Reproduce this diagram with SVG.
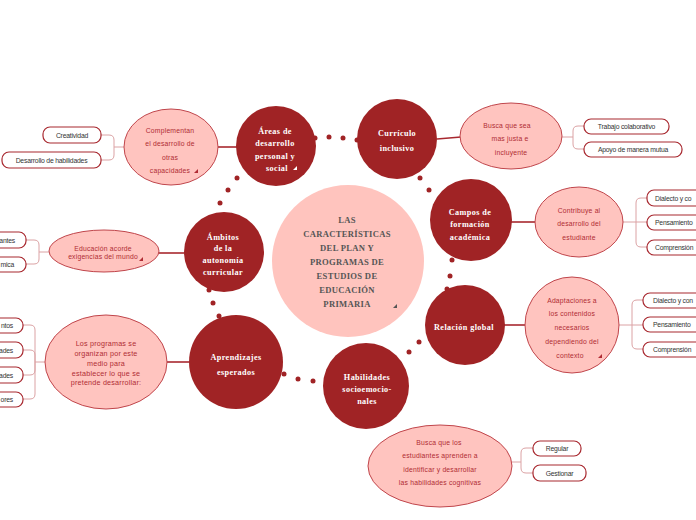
<svg xmlns="http://www.w3.org/2000/svg" width="696" height="520" viewBox="0 0 696 520">
<style>
.main{fill:#a02325}
.sub{fill:#ffc4bf;stroke:#c0454b;stroke-width:1}
.leaf{fill:#fff;stroke:#a8282f;stroke-width:1.2}
.link{fill:none;stroke:#a8282f;stroke-width:1.6}
.br{fill:none;stroke:#dba2a4;stroke-width:1}
.dot{fill:#a02325}
.mt{font-family:"Liberation Serif",serif;font-weight:bold;font-size:8.2px;fill:#fff;text-anchor:middle;letter-spacing:0.4px}
.ct{font-family:"Liberation Serif",serif;font-weight:bold;font-size:8.6px;fill:#555;text-anchor:middle;letter-spacing:0.3px}
.st{font-family:"Liberation Sans",Arial,sans-serif;font-size:6.8px;fill:#b02c34;text-anchor:middle;letter-spacing:0.2px}
.lt{font-family:"Liberation Sans",Arial,sans-serif;font-size:6.8px;fill:#333;letter-spacing:-0.2px}
.tw{fill:#fff}.tr{fill:#b02c34}.tg{fill:#555}
</style>
<g id="connectors">
  <path class="link" d="M218 147 H237"/>
  <path class="link" d="M437 139 L461 137"/>
  <path class="link" d="M511 222 H536"/>
  <path class="link" d="M504 325 H526"/>
  <path class="link" d="M167 362 H189"/>
  <path class="link" d="M158 253 H184"/>
  <path class="br" d="M124 147 H114 M114 147 V140 Q114 135 109 135 H101 M114 147 V155 Q114 160 109 160 H101"/>
  <path class="br" d="M562 137 H573 M573 137 V131 Q573 126 578 126 H584 M573 137 V144 Q573 149 578 149 H584"/>
  <path class="br" d="M623 222 H636 M636 222 V203 Q636 198 641 198 H647 M636 222 H647 M636 222 V242 Q636 247 641 247 H647"/>
  <path class="br" d="M619 325 H632 M632 325 V305 Q632 300 637 300 H643 M632 325 H643 M632 325 V344 Q632 349 637 349 H643"/>
  <path class="br" d="M511 462 H521 M521 462 V453 Q521 448 526 448 H533 M521 462 V468 Q521 473 526 473 H533"/>
  <path class="br" d="M49 252 H39 M39 252 V245 Q39 240 34 240 H26 M39 252 V259 Q39 264 34 264 H26"/>
  <path class="br" d="M45 362 H35 M35 362 V330 Q35 325 30 325 H23 M35 362 V355 Q35 350 30 350 H23 M35 362 V370 Q35 375 30 375 H23 M35 362 V394 Q35 399 30 399 H23"/>
  <circle class="dot" cx="315" cy="138" r="2.5"/><circle class="dot" cx="329" cy="137" r="2.5"/><circle class="dot" cx="343" cy="138" r="2.5"/><circle class="dot" cx="357" cy="140" r="2.5"/>
  <circle class="dot" cx="420" cy="178" r="2.5"/><circle class="dot" cx="429" cy="190" r="2.5"/>
  <circle class="dot" cx="452" cy="260" r="2.5"/><circle class="dot" cx="450" cy="276" r="2.5"/><circle class="dot" cx="447" cy="289" r="2.5"/>
  <circle class="dot" cx="419" cy="342" r="2.5"/><circle class="dot" cx="409" cy="352" r="2.5"/>
  <circle class="dot" cx="284" cy="374" r="2.5"/><circle class="dot" cx="298" cy="379" r="2.5"/><circle class="dot" cx="313" cy="381" r="2.5"/>
  <circle class="dot" cx="209" cy="290" r="2.5"/><circle class="dot" cx="213" cy="303" r="2.5"/><circle class="dot" cx="219" cy="316" r="2.5"/>
  <circle class="dot" cx="237" cy="178" r="2.5"/><circle class="dot" cx="228" cy="190" r="2.5"/><circle class="dot" cx="220" cy="203" r="2.5"/>
</g>
<g id="central">
  <circle cx="348" cy="261" r="76" fill="#ffc4be"/>
  <text class="ct"><tspan x="347" y="223">LAS</tspan><tspan x="347" y="237">CARACTERÍSTICAS</tspan><tspan x="347" y="251">DEL PLAN Y</tspan><tspan x="347" y="265">PROGRAMAS DE</tspan><tspan x="347" y="279">ESTUDIOS DE</tspan><tspan x="347" y="293">EDUCACIÓN</tspan><tspan x="347" y="307">PRIMARIA</tspan></text>
  <polygon class="tg" points="397,304 397,308 393,308"/>
</g>
<g id="areas">
  <circle class="main" cx="276" cy="146" r="40"/>
  <text class="mt"><tspan x="275" y="134">Áreas de</tspan><tspan x="275" y="146">desarrollo</tspan><tspan x="275" y="159">personal y</tspan><tspan x="277" y="171">social</tspan></text>
  <polygon class="tw" points="297,166 297,170 293,170"/>
</g>
<g id="curriculo">
  <circle class="main" cx="397" cy="139" r="40"/>
  <text class="mt"><tspan x="397" y="136">Currículo</tspan><tspan x="397" y="151">inclusivo</tspan></text>
</g>
<g id="campos">
  <circle class="main" cx="471" cy="220" r="41"/>
  <text class="mt"><tspan x="470" y="215">Campos de</tspan><tspan x="470" y="227">formación</tspan><tspan x="470" y="240">académica</tspan></text>
</g>
<g id="relacion">
  <circle class="main" cx="465" cy="325" r="40"/>
  <text class="mt"><tspan x="464" y="330">Relación global</tspan></text>
</g>
<g id="habilidades">
  <circle class="main" cx="366" cy="386" r="43"/>
  <text class="mt"><tspan x="367" y="380">Habilidades</tspan><tspan x="367" y="392">socioemocio-</tspan><tspan x="367" y="404">nales</tspan></text>
</g>
<g id="aprendizajes">
  <circle class="main" cx="236" cy="362" r="47"/>
  <text class="mt"><tspan x="236" y="360">Aprendizajes</tspan><tspan x="236" y="375">esperados</tspan></text>
</g>
<g id="ambitos">
  <circle class="main" cx="224" cy="252" r="40"/>
  <text class="mt"><tspan x="223" y="240">Ámbitos</tspan><tspan x="223" y="251">de la</tspan><tspan x="223" y="263">autonomía</tspan><tspan x="223" y="275">curricular</tspan></text>
</g>
<g id="complementan">
  <ellipse class="sub" cx="171" cy="147" rx="47" ry="38"/>
  <text class="st"><tspan x="170" y="133">Complementan</tspan><tspan x="170" y="146">el desarrollo de</tspan><tspan x="170" y="160">otras</tspan><tspan x="170" y="173">capacidades</tspan></text>
  <polygon class="tr" points="198,169 198,173 194,173"/>
</g>
<g id="busca-justa">
  <ellipse class="sub" cx="511" cy="136" rx="51" ry="33"/>
  <text class="st"><tspan x="507" y="128">Busca que sea</tspan><tspan x="510" y="141">mas justa e</tspan><tspan x="511" y="155">incluyente</tspan></text>
</g>
<g id="contribuye">
  <ellipse class="sub" cx="579" cy="222" rx="44" ry="35"/>
  <text class="st"><tspan x="579" y="213">Contribuye al</tspan><tspan x="579" y="226">desarrollo del</tspan><tspan x="579" y="240">estudiante</tspan></text>
</g>
<g id="adaptaciones">
  <ellipse class="sub" cx="572" cy="325" rx="47" ry="48"/>
  <text class="st"><tspan x="572" y="303">Adaptaciones a</tspan><tspan x="572" y="316">los contenidos</tspan><tspan x="572" y="330">necesarios</tspan><tspan x="572" y="344">dependiendo del</tspan><tspan x="570" y="358">contexto</tspan></text>
  <polygon class="tr" points="602,354 602,358 598,358"/>
</g>
<g id="busca-cognitivas">
  <ellipse class="sub" cx="440" cy="466" rx="72" ry="41"/>
  <text class="st"><tspan x="439" y="445">Busca que los</tspan><tspan x="440" y="458">estudiantes aprenden a</tspan><tspan x="440" y="472">identificar y desarrollar</tspan><tspan x="440" y="485">las habilidades cognitivas</tspan></text>
</g>
<g id="programas">
  <ellipse class="sub" cx="106" cy="362" rx="61" ry="47"/>
  <text class="st" style="font-size:7.2px"><tspan x="106" y="346">Los programas se</tspan><tspan x="106" y="356">organizan por este</tspan><tspan x="106" y="366">medio para</tspan><tspan x="106" y="376">establecer lo que se</tspan><tspan x="106" y="385">pretende desarrollar:</tspan></text>
</g>
<g id="educacion">
  <ellipse class="sub" cx="104" cy="251" rx="55" ry="21"/>
  <text class="st"><tspan x="103" y="251">Educación acorde</tspan><tspan x="103" y="259">exigencias del mundo</tspan></text>
  <polygon class="tr" points="143,257 143,261 139,261"/>
</g>
<g id="creatividad"><rect class="leaf" x="43" y="127" width="58" height="16" rx="7"/><text class="lt" x="72" y="137.5" text-anchor="middle">Creatividad</text></g>
<g id="desarrollo-habilidades"><rect class="leaf" x="2" y="152" width="99" height="16" rx="7"/><text class="lt" x="51.5" y="162.5" text-anchor="middle">Desarrollo de habilidades</text></g>
<g id="trabajo"><rect class="leaf" x="584" y="119" width="85" height="15" rx="7"/><text class="lt" x="626.5" y="129" text-anchor="middle">Trabajo colaborativo</text></g>
<g id="apoyo"><rect class="leaf" x="584" y="142" width="98" height="15" rx="7"/><text class="lt" x="633" y="152" text-anchor="middle">Apoyo de manera mutua</text></g>
<g id="dialecto1"><rect class="leaf" x="647" y="190" width="80" height="16" rx="7"/><text class="lt" x="655" y="200.5">Dialecto y co</text></g>
<g id="pensamiento1"><rect class="leaf" x="647" y="215" width="80" height="15" rx="7"/><text class="lt" x="655" y="225">Pensamiento</text></g>
<g id="comprension1"><rect class="leaf" x="647" y="240" width="80" height="15" rx="7"/><text class="lt" x="655" y="250">Comprensión</text></g>
<g id="dialecto2"><rect class="leaf" x="643" y="293" width="80" height="15" rx="7"/><text class="lt" x="653" y="303">Dialecto y con</text></g>
<g id="pensamiento2"><rect class="leaf" x="643" y="317" width="80" height="15" rx="7"/><text class="lt" x="653" y="327">Pensamiento</text></g>
<g id="comprension2"><rect class="leaf" x="643" y="342" width="80" height="15" rx="7"/><text class="lt" x="653" y="352">Comprensión</text></g>
<g id="regular"><rect class="leaf" x="533" y="441" width="48" height="15" rx="7"/><text class="lt" x="557" y="451" text-anchor="middle">Regular</text></g>
<g id="gestionar"><rect class="leaf" x="533" y="465" width="53" height="16" rx="7"/><text class="lt" x="559.5" y="475.5" text-anchor="middle">Gestionar</text></g>
<g id="relevantes"><rect class="leaf" x="-60" y="232" width="86" height="16" rx="7"/><text class="lt" x="15" y="242.5" text-anchor="end">antes</text></g>
<g id="academica"><rect class="leaf" x="-60" y="257" width="86" height="15" rx="7"/><text class="lt" x="14" y="267" text-anchor="end">mica</text></g>
<g id="conocimientos"><rect class="leaf" x="-60" y="318" width="83" height="15" rx="7"/><text class="lt" x="13" y="328" text-anchor="end">ntos</text></g>
<g id="habilidades-leaf"><rect class="leaf" x="-60" y="342" width="83" height="16" rx="7"/><text class="lt" x="13" y="352.5" text-anchor="end">ades</text></g>
<g id="actitudes"><rect class="leaf" x="-60" y="367" width="83" height="16" rx="7"/><text class="lt" x="13" y="377.5" text-anchor="end">ades</text></g>
<g id="valores"><rect class="leaf" x="-60" y="392" width="83" height="15" rx="7"/><text class="lt" x="13" y="402" text-anchor="end">ores</text></g>
</svg>
